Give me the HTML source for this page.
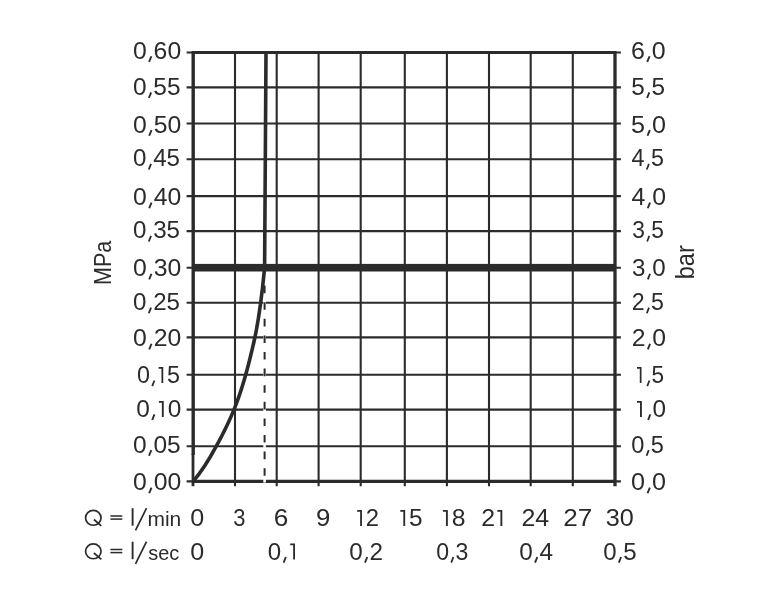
<!DOCTYPE html>
<html><head><meta charset="utf-8"><title>chart</title>
<style>
html,body{margin:0;padding:0;background:#fff;}
body{width:777px;height:600px;overflow:hidden;font-family:"Liberation Sans",sans-serif;}
svg{display:block;opacity:0.999;will-change:transform}
text{font-family:"Liberation Sans",sans-serif;font-size:23px;font-kerning:none;fill:#2b2b2b;stroke:#ffffff;stroke-width:0px;}
</style></head><body>
<svg width="777" height="600" viewBox="0 0 777 600">
<rect width="777" height="600" fill="#ffffff"/>

<g stroke="#2b2b2b" stroke-width="2.1" fill="none">
<line x1="235.00" y1="52.50" x2="235.00" y2="486.20"/>
<line x1="276.70" y1="52.50" x2="276.70" y2="486.20"/>
<line x1="318.60" y1="52.50" x2="318.60" y2="486.20"/>
<line x1="360.70" y1="52.50" x2="360.70" y2="486.20"/>
<line x1="404.80" y1="52.50" x2="404.80" y2="486.20"/>
<line x1="446.90" y1="52.50" x2="446.90" y2="486.20"/>
<line x1="489.00" y1="52.50" x2="489.00" y2="486.20"/>
<line x1="530.70" y1="52.50" x2="530.70" y2="486.20"/>
<line x1="572.80" y1="52.50" x2="572.80" y2="486.20"/>
<line x1="186.60" y1="52.50" x2="620.90" y2="52.50"/>
<line x1="186.60" y1="87.40" x2="620.90" y2="87.40"/>
<line x1="186.60" y1="123.50" x2="620.90" y2="123.50"/>
<line x1="186.60" y1="159.20" x2="620.90" y2="159.20"/>
<line x1="186.60" y1="196.10" x2="620.90" y2="196.10"/>
<line x1="186.60" y1="231.10" x2="620.90" y2="231.10"/>
<line x1="186.60" y1="267.70" x2="620.90" y2="267.70"/>
<line x1="186.60" y1="302.80" x2="620.90" y2="302.80"/>
<line x1="186.60" y1="337.40" x2="620.90" y2="337.40"/>
<line x1="186.60" y1="374.70" x2="620.90" y2="374.70"/>
<line x1="186.60" y1="409.60" x2="620.90" y2="409.60"/>
<line x1="186.60" y1="446.20" x2="620.90" y2="446.20"/>
<line x1="186.60" y1="481.40" x2="620.90" y2="481.40"/>
</g>
<g stroke="#2b2b2b" fill="none">
<line x1="193.20" y1="51.00" x2="193.20" y2="455" stroke-width="3.4"/>
<line x1="193.00" y1="454" x2="193.00" y2="486.20" stroke-width="2.8"/>
<line x1="615.00" y1="51.00" x2="615.00" y2="486.20" stroke-width="3.3"/>
<line x1="193.20" y1="52.50" x2="615.00" y2="52.50" stroke-width="3.2"/>
<line x1="193.20" y1="481.40" x2="615.00" y2="481.40" stroke-width="3.1"/>
</g>
<line x1="264.6" y1="273.7" x2="264.6" y2="482.6" stroke="#ffffff" stroke-width="2.6"/>
<line x1="264.6" y1="285.6" x2="264.6" y2="479.4" stroke="#2b2b2b" stroke-width="2" stroke-dasharray="7.6,9"/>
<rect x="193.20" y="263.90" width="421.80" height="7.6" fill="#2b2b2b"/>
<path d="M193.2,481.4 C 203,470 210,458 216.3,446.2 C 223,434 229,422 234,409.6 C 243,388 250,360 255,337 C 259,318 262,295 264.6,267.7 L 266,52.5" stroke="#2b2b2b" stroke-width="3.6" fill="none" stroke-linejoin="round"/>
<g transform="translate(132.93,58.80) scale(1.0775,1.0102)"><text x="0.00" y="0">0</text><line x1="17.14" y1="-2.5" x2="15.00" y2="3.1" stroke="#2b2b2b" stroke-width="1.75"/><text x="19.19" y="0">60</text></g>
<g transform="translate(132.95,94.90) scale(1.0628,1.0102)"><text x="0.00" y="0">0</text><line x1="17.14" y1="-2.5" x2="15.00" y2="3.1" stroke="#2b2b2b" stroke-width="1.75"/><text x="19.19" y="0">55</text></g>
<g transform="translate(133.03,132.60) scale(1.0775,1.0102)"><text x="0.00" y="0">0</text><line x1="17.14" y1="-2.5" x2="15.00" y2="3.1" stroke="#2b2b2b" stroke-width="1.75"/><text x="19.19" y="0">50</text></g>
<g transform="translate(133.06,166.40) scale(1.0488,1.0102)"><text x="0.00" y="0">0</text><line x1="17.14" y1="-2.5" x2="15.00" y2="3.1" stroke="#2b2b2b" stroke-width="1.75"/><text x="19.19" y="0">45</text></g>
<g transform="translate(133.03,205.10) scale(1.0775,1.0102)"><text x="0.00" y="0">0</text><line x1="17.14" y1="-2.5" x2="15.00" y2="3.1" stroke="#2b2b2b" stroke-width="1.75"/><text x="19.19" y="0">40</text></g>
<g transform="translate(133.06,238.40) scale(1.0488,1.0102)"><text x="0.00" y="0">0</text><line x1="17.14" y1="-2.5" x2="15.00" y2="3.1" stroke="#2b2b2b" stroke-width="1.75"/><text x="19.19" y="0">35</text></g>
<g transform="translate(133.03,276.30) scale(1.0775,1.0102)"><text x="0.00" y="0">0</text><line x1="17.14" y1="-2.5" x2="15.00" y2="3.1" stroke="#2b2b2b" stroke-width="1.75"/><text x="19.19" y="0">30</text></g>
<g transform="translate(133.06,310.10) scale(1.0488,1.0102)"><text x="0.00" y="0">0</text><line x1="17.14" y1="-2.5" x2="15.00" y2="3.1" stroke="#2b2b2b" stroke-width="1.75"/><text x="19.19" y="0">25</text></g>
<g transform="translate(133.03,346.30) scale(1.0775,1.0102)"><text x="0.00" y="0">0</text><line x1="17.14" y1="-2.5" x2="15.00" y2="3.1" stroke="#2b2b2b" stroke-width="1.75"/><text x="19.19" y="0">20</text></g>
<g transform="translate(136.99,383.00) scale(1.0157,1.0102)"><text x="0.00" y="0">0</text><line x1="17.14" y1="-2.5" x2="15.00" y2="3.1" stroke="#2b2b2b" stroke-width="1.75"/><path d="M21.26,-14.95 L24.98,-14.95 L24.98,0" fill="none" stroke="#2b2b2b" stroke-width="1.75" stroke-linejoin="miter"/><text x="29.54" y="0">5</text></g>
<g transform="translate(136.24,416.90) scale(1.0634,1.0102)"><text x="0.00" y="0">0</text><line x1="17.14" y1="-2.5" x2="15.00" y2="3.1" stroke="#2b2b2b" stroke-width="1.75"/><path d="M21.26,-14.95 L24.98,-14.95 L24.98,0" fill="none" stroke="#2b2b2b" stroke-width="1.75" stroke-linejoin="miter"/><text x="29.54" y="0">0</text></g>
<g transform="translate(133.04,452.60) scale(1.0652,1.0102)"><text x="0.00" y="0">0</text><line x1="17.14" y1="-2.5" x2="15.00" y2="3.1" stroke="#2b2b2b" stroke-width="1.75"/><text x="19.19" y="0">05</text></g>
<g transform="translate(133.03,490.10) scale(1.0775,1.0102)"><text x="0.00" y="0">0</text><line x1="17.14" y1="-2.5" x2="15.00" y2="3.1" stroke="#2b2b2b" stroke-width="1.75"/><text x="19.19" y="0">00</text></g>
<g transform="translate(630.93,58.80) scale(1.0866,1.0102)"><text x="0.00" y="0">6</text><line x1="17.14" y1="-2.5" x2="15.00" y2="3.1" stroke="#2b2b2b" stroke-width="1.75"/><text x="19.19" y="0">0</text></g>
<g transform="translate(631.23,94.90) scale(1.0568,1.0102)"><text x="0.00" y="0">5</text><line x1="17.14" y1="-2.5" x2="15.00" y2="3.1" stroke="#2b2b2b" stroke-width="1.75"/><text x="19.19" y="0">5</text></g>
<g transform="translate(631.09,132.60) scale(1.0942,1.0102)"><text x="0.00" y="0">5</text><line x1="17.14" y1="-2.5" x2="15.00" y2="3.1" stroke="#2b2b2b" stroke-width="1.75"/><text x="19.19" y="0">0</text></g>
<g transform="translate(631.56,166.40) scale(1.0137,1.0102)"><text x="0.00" y="0">4</text><line x1="17.14" y1="-2.5" x2="15.00" y2="3.1" stroke="#2b2b2b" stroke-width="1.75"/><text x="19.19" y="0">5</text></g>
<g transform="translate(631.53,205.10) scale(1.0802,1.0102)"><text x="0.00" y="0">4</text><line x1="17.14" y1="-2.5" x2="15.00" y2="3.1" stroke="#2b2b2b" stroke-width="1.75"/><text x="19.19" y="0">0</text></g>
<g transform="translate(632.33,238.40) scale(0.9889,1.0102)"><text x="0.00" y="0">3</text><line x1="17.14" y1="-2.5" x2="15.00" y2="3.1" stroke="#2b2b2b" stroke-width="1.75"/><text x="19.19" y="0">5</text></g>
<g transform="translate(632.08,276.30) scale(1.0496,1.0102)"><text x="0.00" y="0">3</text><line x1="17.14" y1="-2.5" x2="15.00" y2="3.1" stroke="#2b2b2b" stroke-width="1.75"/><text x="19.19" y="0">0</text></g>
<g transform="translate(631.73,310.10) scale(1.0082,1.0102)"><text x="0.00" y="0">2</text><line x1="17.14" y1="-2.5" x2="15.00" y2="3.1" stroke="#2b2b2b" stroke-width="1.75"/><text x="19.19" y="0">5</text></g>
<g transform="translate(631.66,346.30) scale(1.0761,1.0102)"><text x="0.00" y="0">2</text><line x1="17.14" y1="-2.5" x2="15.00" y2="3.1" stroke="#2b2b2b" stroke-width="1.75"/><text x="19.19" y="0">0</text></g>
<g transform="translate(634.97,383.00) scale(0.9811,1.0102)"><path d="M2.07,-14.95 L5.79,-14.95 L5.79,0" fill="none" stroke="#2b2b2b" stroke-width="1.75" stroke-linejoin="miter"/><line x1="14.70" y1="-2.5" x2="12.56" y2="3.1" stroke="#2b2b2b" stroke-width="1.75"/><text x="16.74" y="0">5</text></g>
<g transform="translate(634.81,416.90) scale(1.0577,1.0102)"><path d="M2.07,-14.95 L5.79,-14.95 L5.79,0" fill="none" stroke="#2b2b2b" stroke-width="1.75" stroke-linejoin="miter"/><line x1="14.70" y1="-2.5" x2="12.56" y2="3.1" stroke="#2b2b2b" stroke-width="1.75"/><text x="16.74" y="0">0</text></g>
<g transform="translate(631.18,452.60) scale(1.0261,1.0102)"><text x="0.00" y="0">0</text><line x1="17.14" y1="-2.5" x2="15.00" y2="3.1" stroke="#2b2b2b" stroke-width="1.75"/><text x="19.19" y="0">5</text></g>
<g transform="translate(631.12,490.10) scale(1.0934,1.0102)"><text x="0.00" y="0">0</text><line x1="17.14" y1="-2.5" x2="15.00" y2="3.1" stroke="#2b2b2b" stroke-width="1.75"/><text x="19.19" y="0">0</text></g>
<g transform="translate(190.22,526.00) scale(1.0914,1.0102)"><text x="0.00" y="0">0</text></g>
<g transform="translate(233.16,526.00) scale(0.9537,1.0102)"><text x="0.00" y="0">3</text></g>
<g transform="translate(273.87,526.00) scale(1.1401,1.0102)"><text x="0.00" y="0">6</text></g>
<g transform="translate(316.09,526.00) scale(1.1201,1.0102)"><text x="0.00" y="0">9</text></g>
<g transform="translate(355.06,526.00) scale(1.0344,1.0102)"><path d="M2.07,-14.95 L5.79,-14.95 L5.79,0" fill="none" stroke="#2b2b2b" stroke-width="1.75" stroke-linejoin="miter"/><text x="10.35" y="0">2</text></g>
<g transform="translate(398.11,526.00) scale(1.0594,1.0102)"><path d="M2.07,-14.95 L5.79,-14.95 L5.79,0" fill="none" stroke="#2b2b2b" stroke-width="1.75" stroke-linejoin="miter"/><text x="10.35" y="0">5</text></g>
<g transform="translate(440.67,526.00) scale(1.0761,1.0102)"><path d="M2.07,-14.95 L5.79,-14.95 L5.79,0" fill="none" stroke="#2b2b2b" stroke-width="1.75" stroke-linejoin="miter"/><text x="10.35" y="0">8</text></g>
<g transform="translate(481.25,526.00) scale(1.0817,1.0102)"><text x="0.00" y="0">2</text><path d="M14.86,-14.95 L18.59,-14.95 L18.59,0" fill="none" stroke="#2b2b2b" stroke-width="1.75" stroke-linejoin="miter"/></g>
<g transform="translate(521.44,526.00) scale(1.0862,1.0102)"><text x="0.00" y="0">24</text></g>
<g transform="translate(563.19,526.00) scale(1.1345,1.0102)"><text x="0.00" y="0">27</text></g>
<g transform="translate(605.74,526.00) scale(1.0962,1.0102)"><text x="0.00" y="0">30</text></g>
<g transform="translate(190.22,559.50) scale(1.0914,1.0102)"><text x="0.00" y="0">0</text></g>
<g transform="translate(267.86,559.50) scale(1.0498,1.0102)"><text x="0.00" y="0">0</text><line x1="17.14" y1="-2.5" x2="15.00" y2="3.1" stroke="#2b2b2b" stroke-width="1.75"/><path d="M21.26,-14.95 L24.98,-14.95 L24.98,0" fill="none" stroke="#2b2b2b" stroke-width="1.75" stroke-linejoin="miter"/></g>
<g transform="translate(349.15,559.50) scale(1.0561,1.0102)"><text x="0.00" y="0">0</text><line x1="17.14" y1="-2.5" x2="15.00" y2="3.1" stroke="#2b2b2b" stroke-width="1.75"/><text x="19.19" y="0">2</text></g>
<g transform="translate(436.20,559.50) scale(1.0044,1.0102)"><text x="0.00" y="0">0</text><line x1="17.14" y1="-2.5" x2="15.00" y2="3.1" stroke="#2b2b2b" stroke-width="1.75"/><text x="19.19" y="0">3</text></g>
<g transform="translate(519.15,559.50) scale(1.0590,1.0102)"><text x="0.00" y="0">0</text><line x1="17.14" y1="-2.5" x2="15.00" y2="3.1" stroke="#2b2b2b" stroke-width="1.75"/><text x="19.19" y="0">4</text></g>
<g transform="translate(603.16,559.50) scale(1.0461,1.0102)"><text x="0.00" y="0">0</text><line x1="17.14" y1="-2.5" x2="15.00" y2="3.1" stroke="#2b2b2b" stroke-width="1.75"/><text x="19.19" y="0">5</text></g>
<g fill="none" stroke="#2b2b2b" stroke-width="1.7" stroke-linecap="butt">
<ellipse cx="93.3" cy="517.80" rx="7.75" ry="7.45"/>
<line x1="93.9" y1="519.50" x2="101.3" y2="525.80"/>
<line x1="110.4" y1="516.00" x2="122.3" y2="516.00" stroke-width="1.5"/>
<line x1="110.4" y1="519.10" x2="122.3" y2="519.10" stroke-width="1.5"/>
<line x1="132.6" y1="508.20" x2="132.6" y2="525.70" stroke-width="1.9"/>
<line x1="146.5" y1="508.2" x2="135.5" y2="530.4"/>
</g>
<g transform="translate(147.40,525.80) scale(0.9136,0.9092)"><text x="0.00" y="0">min</text></g>
<g fill="none" stroke="#2b2b2b" stroke-width="1.7" stroke-linecap="butt">
<ellipse cx="93.3" cy="551.30" rx="7.75" ry="7.45"/>
<line x1="93.9" y1="553.00" x2="101.3" y2="559.30"/>
<line x1="110.4" y1="549.50" x2="122.3" y2="549.50" stroke-width="1.5"/>
<line x1="110.4" y1="552.60" x2="122.3" y2="552.60" stroke-width="1.5"/>
<line x1="132.6" y1="541.70" x2="132.6" y2="559.20" stroke-width="1.9"/>
<line x1="146.5" y1="541.7" x2="135.5" y2="563.9"/>
</g>
<g transform="translate(148.24,559.80) scale(0.8684,0.9092)"><text x="0.00" y="0">sec</text></g>
<g transform="translate(110.60,284.97) rotate(-90) scale(0.9360,1.0102)"><text x="0.00" y="0">MPa</text></g>
<g transform="translate(693.70,279.32) rotate(-90) scale(1.0262,1.0910)"><text x="0.00" y="0">bar</text></g>
</svg></body></html>
